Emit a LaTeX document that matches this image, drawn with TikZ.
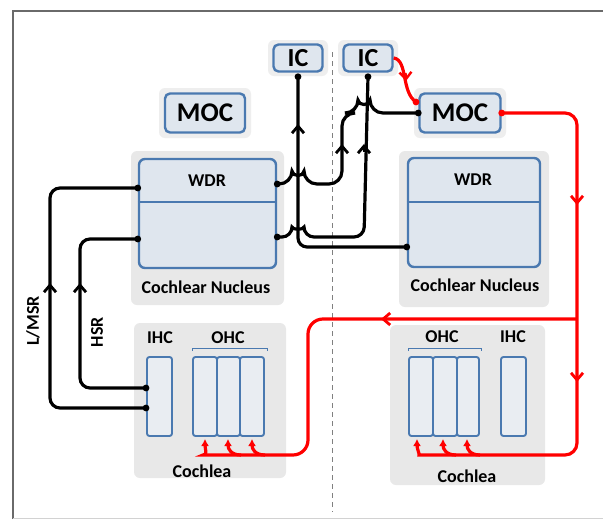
\documentclass[tikz,border=0pt]{standalone}
\usepackage{fontspec}
\setmainfont{Carlito}
\usetikzlibrary{arrows.meta}
\definecolor{boxblue}{HTML}{4A79B0}
\definecolor{boxfill}{HTML}{DFE6EE}
\definecolor{cellfill}{HTML}{E9EDF2}
\definecolor{panelgray}{HTML}{E8E8E8}
\definecolor{glowgray}{HTML}{EEEEEE}
\definecolor{redline}{HTML}{FF0000}
\definecolor{framegray}{HTML}{6A6A6A}
\begin{document}
\begin{tikzpicture}[x=1pt,y=-1pt,
  panel/.style={fill=panelgray, draw=none, rounded corners=6pt},
  glow/.style={fill=glowgray, draw=none, rounded corners=6pt},
  bigbox/.style={draw=boxblue, fill=boxfill, line width=2.4pt, rounded corners=5pt, inner sep=0pt, font=\bfseries\fontsize{27}{29}\selectfont},
  cnbox/.style={draw=boxblue, fill=boxfill, line width=2.4pt, rounded corners=6pt, inner sep=0pt},
  cell/.style={draw=boxblue, fill=cellfill, line width=1.9pt, rounded corners=2.5pt, inner sep=0pt, minimum height=79pt},
  lbl/.style={font=\bfseries\fontsize{18}{20}\selectfont, inner sep=0pt},
  conn/.style={draw=black, line width=3.2pt, rounded corners=10pt},
  redc/.style={draw=redline, line width=3.2pt, rounded corners=12pt},
  barb/.style={-{Straight Barb[length=7pt,width=12pt]}, line width=2.8pt},
  redtip/.style={-{Latex[length=7pt,width=8pt]}},
]
\useasboundingbox (0,0) rectangle (603,523);
\fill[white] (0,0) rectangle (603,523);
% frame
\draw[framegray, line width=1.3pt] (13,519) -- (13,11) -- (603,11);
\draw[gray!35, line width=1pt] (13,518) -- (603,518);
% midline
\draw[gray, line width=0.9pt, dash pattern=on 5pt off 4pt] (332,52) -- (332,512);

% panels
\fill[panel] (131,151) rectangle (284,305);
\fill[panel] (399,151) rectangle (549,307);
\fill[panel] (134,323) rectangle (286,478);
\fill[panel] (390,325) rectangle (545,485);
\fill[glow] (159,88) rectangle (251,138);
\fill[glow] (414,88) rectangle (506,138);
\fill[glow] (268,40) rectangle (328,76);
\fill[glow] (338,40) rectangle (398,76);

% top boxes
\node[bigbox, minimum width=49pt, minimum height=27pt, font=\bfseries\fontsize{26}{28}\selectfont] (icL) at (298,58) {IC};
\node[bigbox, minimum width=49pt, minimum height=27pt, font=\bfseries\fontsize{26}{28}\selectfont] (icR) at (368,58) {IC};
\node[bigbox, minimum width=80pt, minimum height=39pt] (mocL) at (205,113) {MOC};
\node[bigbox, minimum width=81pt, minimum height=39pt] (mocR) at (460,113) {MOC};

% cochlear nuclei
\node[cnbox, minimum width=137pt, minimum height=109pt] (cnL) at (207.5,213.5) {};
\draw[boxblue, line width=2.4pt] (cnL.west |- 0,202) -- (cnL.east |- 0,202);
\node[lbl] (wdrL) at (207,181) {WDR};
\node[lbl] (cnlabL) at (206,287) {Cochlear Nucleus};
\node[cnbox, minimum width=132pt, minimum height=109pt] (cnR) at (474,212.5) {};
\draw[boxblue, line width=2.4pt] (cnR.west |- 0,202) -- (cnR.east |- 0,202);
\node[lbl] (wdrR) at (473,180) {WDR};
\node[lbl] (cnlabR) at (475,285) {Cochlear Nucleus};

% left cochlea
\node[lbl] (ihcLlab) at (160,338) {IHC};
\node[lbl] (ohcLlab) at (228,338) {OHC};
\draw[boxblue, line width=0.8pt] (192,351) -- (192,348) -- (267,348) -- (267,351);
\node[cell, minimum width=25pt] (ihcL) at (159.5,396.5) {};
\node[cell, minimum width=24pt] (ohcL1) at (205,396.5) {};
\node[cell, minimum width=23pt] (ohcL2) at (228.5,396.5) {};
\node[cell, minimum width=24pt] (ohcL3) at (252,396.5) {};
\node[lbl] (cochL) at (202,471) {Cochlea};

% right cochlea
\node[lbl] (ohcRlab) at (442,337) {OHC};
\node[lbl] (ihcRlab) at (513,337) {IHC};
\draw[boxblue, line width=0.8pt] (408,351) -- (408,348) -- (481,348) -- (481,351);
\node[cell, minimum width=24pt] (ohcR1) at (421,396.5) {};
\node[cell, minimum width=24pt] (ohcR2) at (445,396.5) {};
\node[cell, minimum width=22pt] (ohcR3) at (468,396.5) {};
\node[cell, minimum width=25pt] (ihcR) at (513.5,396.5) {};
\node[lbl] (cochR) at (467,476) {Cochlea};

% rotated labels
\node[lbl, rotate=90] (lmsr) at (33,321) {L/MSR};
\node[lbl, rotate=90] (hsr) at (97,332) {HSR};

% black connectors
\coordinate (icLin) at ([yshift=-4pt]icL.south);
\coordinate (icRin) at ([yshift=-4pt]icR.south);
\draw[conn] (cnL.east |- 0,237) -- (292,237) .. controls (292,230) and (304,230) .. (304,237) -- (364,237) -- (icRin);
\draw[conn, rounded corners=9pt] (cnR.west |- 0,247) -- (298,247) -- (icLin);
\draw[conn, rounded corners=13pt] (cnL.east |- 0,184) -- (292,184) .. controls (292,177) and (304,177) .. (304,184) -- (342,184) -- (342,113) -- (358,113) .. controls (358,106) and (370,106) .. (370,113) -- (mocR.west);
\draw[conn] (ihcL.west |- 0,408) -- (50,408) -- (50,188) -- (cnL.west |- 0,188);
\draw[conn] (ihcL.west |- 0,388) -- (80,388) -- (80,239) -- (cnL.west |- 0,239);
% dots
\foreach \p in {(cnL.east |- 0,237),(cnL.east |- 0,184),(cnR.west |- 0,247),(icLin),(icRin),(ihcL.west |- 0,408),(ihcL.west |- 0,388),(cnL.west |- 0,188),(cnL.west |- 0,239),(mocR.west)}
  \fill \p circle (3.4pt);
% black mid arrows
\draw[barb] (298,132) -- (298,124);
\draw[barb] (364,152) -- (364,144);
\draw[barb] (342,152) -- (342,144);
\draw[barb] (50,291) -- (50,283);
\draw[barb] (80,291) -- (80,283);

% red connectors
\draw[redc, redtip] (mocR.east) -- (577,113) -- (577,455) -- (431,455) .. controls (420,455) and (417,449) .. (417,439);
\draw[redc, redtip, rounded corners=0pt] (456,455) .. controls (446,455) and (443,449) .. (443,439);
\draw[redc, redtip, rounded corners=0pt] (480,455) .. controls (470,455) and (467,449) .. (467,439);
\draw[redc, redtip, rounded corners=15pt] (577,319) -- (308,319) -- (308,455) -- (218,455) .. controls (208,455) and (205,449) .. (205,439);
\draw[redc, redtip, rounded corners=0pt] (241,455) .. controls (231,455) and (228,449) .. (228,439);
\draw[redc, redtip, rounded corners=0pt] (265,455) .. controls (255,455) and (252,449) .. (252,439);
\draw[redc, rounded corners=0pt] (icR.east) .. controls (408,60) and (401,92) .. (416,102);
\fill[redline] (416,102) circle (3.4pt);
\fill[redline] (mocR.east) circle (3.4pt);
% red mid arrows
\draw[barb, redline] (577,197) -- (577,205);
\draw[barb, redline] (577,374) -- (577,382);
\draw[barb, redline] (389,319) -- (381,319);
\draw[barb, redline, line width=2.4pt] (405.5,73) -- (406,81);
\end{tikzpicture}
\end{document}
